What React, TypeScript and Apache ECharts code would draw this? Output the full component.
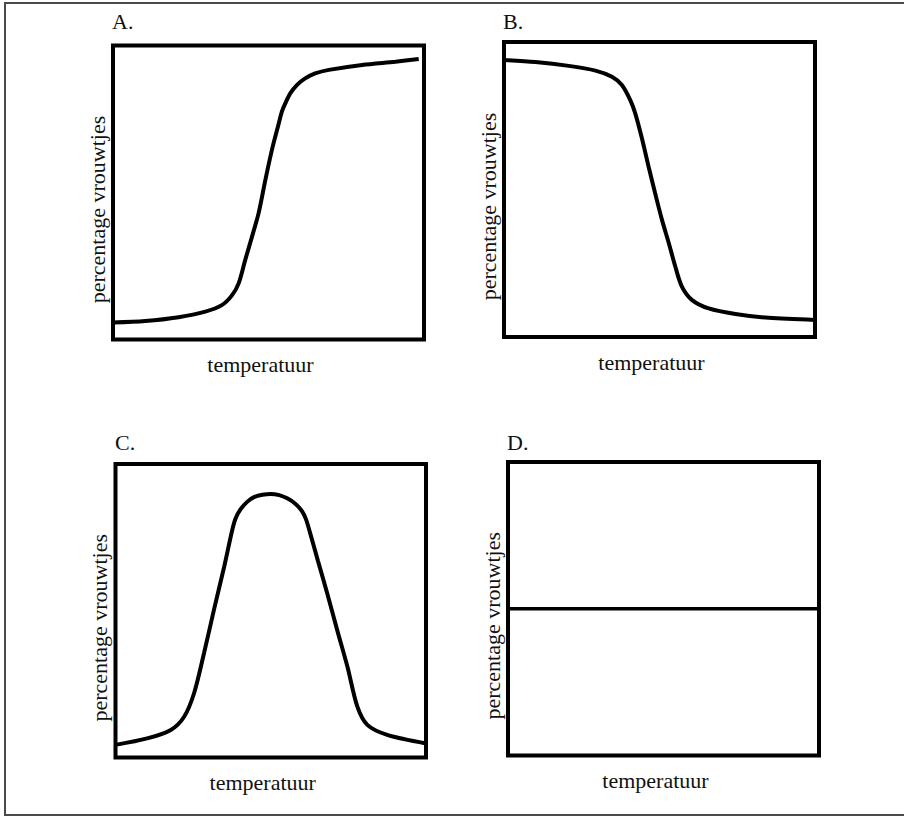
import React, { useEffect, useRef } from "react";
import * as echarts from "echarts";

// Panel labels and axis titles
const panelLabels = ["A.", "B.", "C.", "D."];
const xAxisTitle = "temperatuur";
const yAxisTitle = "percentage vrouwtjes";

// Relative scale 0-100 on both axes (no tick values shown in the original)
const curveA: [number, number][] = [
  [0, 5.8], [10.4, 6.3], [21.1, 7.6], [29.7, 9.5], [35, 11.7], [38.3, 15.1],
  [40.4, 19.1], [42.5, 27], [44.7, 35], [46.8, 42.9], [49, 54.3], [51.1, 64.5],
  [53.3, 73.5], [54.3, 77.5], [55.4, 80.3], [57, 83.7], [59.2, 86.6], [61.8, 88.8],
  [65, 90.5], [69.4, 91.7], [80.1, 93.4], [90.8, 94.5], [98.3, 95.4],
];
const curveB: [number, number][] = [
  [0, 93.9], [10.1, 93.2], [20.8, 91.9], [29.4, 90.3], [34.7, 88.2], [37.9, 85.4],
  [40.6, 80.3], [42.2, 75.8], [44.4, 67.1], [46.5, 57.7], [48.6, 48.7],
  [50.8, 39.7], [53, 31.8], [55.1, 23.8], [57.2, 17.1], [60.5, 12.5],
  [65.8, 9.7], [74.4, 7.8], [85.1, 6.5], [100, 5.8],
];
const curveC: [number, number][] = [
  [0, 4.3], [10.2, 6.5], [17.8, 9.4], [22.1, 13.9], [25.3, 21.9], [28.5, 35.5],
  [31.7, 50.3], [35, 65], [37.6, 77.5], [38.7, 81.5], [40.3, 84.6], [42.4, 87.1],
  [44.6, 88.7], [47.3, 89.5], [50, 89.8], [52.7, 89.4], [55.3, 88.3], [58, 86.4],
  [60, 84], [61.3, 81.3], [62.6, 76.8], [65.2, 67], [68.2, 55.9],
  [71.4, 43.4], [74.7, 30.9], [77.9, 17.3], [81.1, 11.1], [87.5, 7.7], [100, 4.8],
];
const curveD: [number, number][] = [
  [0, 50], [100, 50],
];
const curves = [curveA, curveB, curveC, curveD];

const FONT = "Liberation Serif";
const INK = "#111";
const FS = 22;

export default function App() {
  const ref = useRef<HTMLDivElement>(null);

  useEffect(() => {
    if (!ref.current) return;
    const chart = echarts.init(ref.current, undefined, { renderer: "svg" });

    const grids = [
      { left: 113, top: 45.5, width: 311, height: 294 },
      { left: 504, top: 42, width: 311, height: 295 },
      { left: 115.5, top: 464, width: 310.5, height: 293.5 },
      { left: 508, top: 462, width: 311, height: 293.5 },
    ];
    const titlePos = [
      { left: 112, top: 10 },
      { left: 503, top: 10 },
      { left: 115, top: 431 },
      { left: 507, top: 431 },
    ];

    const option: any = {
      animation: false,
      backgroundColor: "#fff",
      title: panelLabels.map((t, i) => ({
        text: t,
        left: titlePos[i].left,
        top: titlePos[i].top,
        padding: 0,
        textStyle: { fontFamily: FONT, fontSize: FS, fontWeight: "normal", color: INK },
      })),
      grid: grids.map((g) => ({
        ...g,
        show: true,
        borderWidth: 4,
        borderColor: "#000",
        backgroundColor: "transparent",
        containLabel: false,
      })),
      xAxis: grids.map((_, i) => ({
        type: "value",
        gridIndex: i,
        min: 0,
        max: 100,
        axisLine: { show: false },
        axisTick: { show: false },
        axisLabel: { show: false },
        splitLine: { show: false },
        name: xAxisTitle,
        nameLocation: "middle",
        nameGap: 14,
        nameTextStyle: {
          fontFamily: FONT,
          fontSize: FS,
          color: INK,
          padding: [0, 16, 0, 0],
        },
      })),
      yAxis: grids.map((_, i) => ({
        type: "value",
        gridIndex: i,
        min: 0,
        max: 100,
        axisLine: { show: false },
        axisTick: { show: false },
        axisLabel: { show: false },
        splitLine: { show: false },
        name: yAxisTitle,
        nameLocation: "middle",
        nameRotate: 90,
        nameGap: 5,
        nameTextStyle: {
          fontFamily: FONT,
          fontSize: FS,
          color: INK,
          padding: [0, 34, 0, 0],
        },
      })),
      series: curves.map((data, i) => ({
        type: "line",
        xAxisIndex: i,
        yAxisIndex: i,
        data,
        smooth: i === 3 ? false : 0.3,
        showSymbol: false,
        symbol: "none",
        lineStyle: { color: "#000", width: i === 3 ? 3.3 : 4 },
        silent: true,
      })),
      graphic: [
        {
          type: "polyline",
          shape: { points: [[950, 3], [5, 3], [5, 815], [950, 815]] },
          style: { stroke: "#4a4a4a", lineWidth: 2, fill: "none" },
          silent: true,
        },
      ],
    };

    chart.setOption(option);
    return () => chart.dispose();
  }, []);

  return (
    <div
      ref={ref}
      style={{ position: "fixed", left: 0, top: 0, width: 904, height: 817 }}
    />
  );
}
